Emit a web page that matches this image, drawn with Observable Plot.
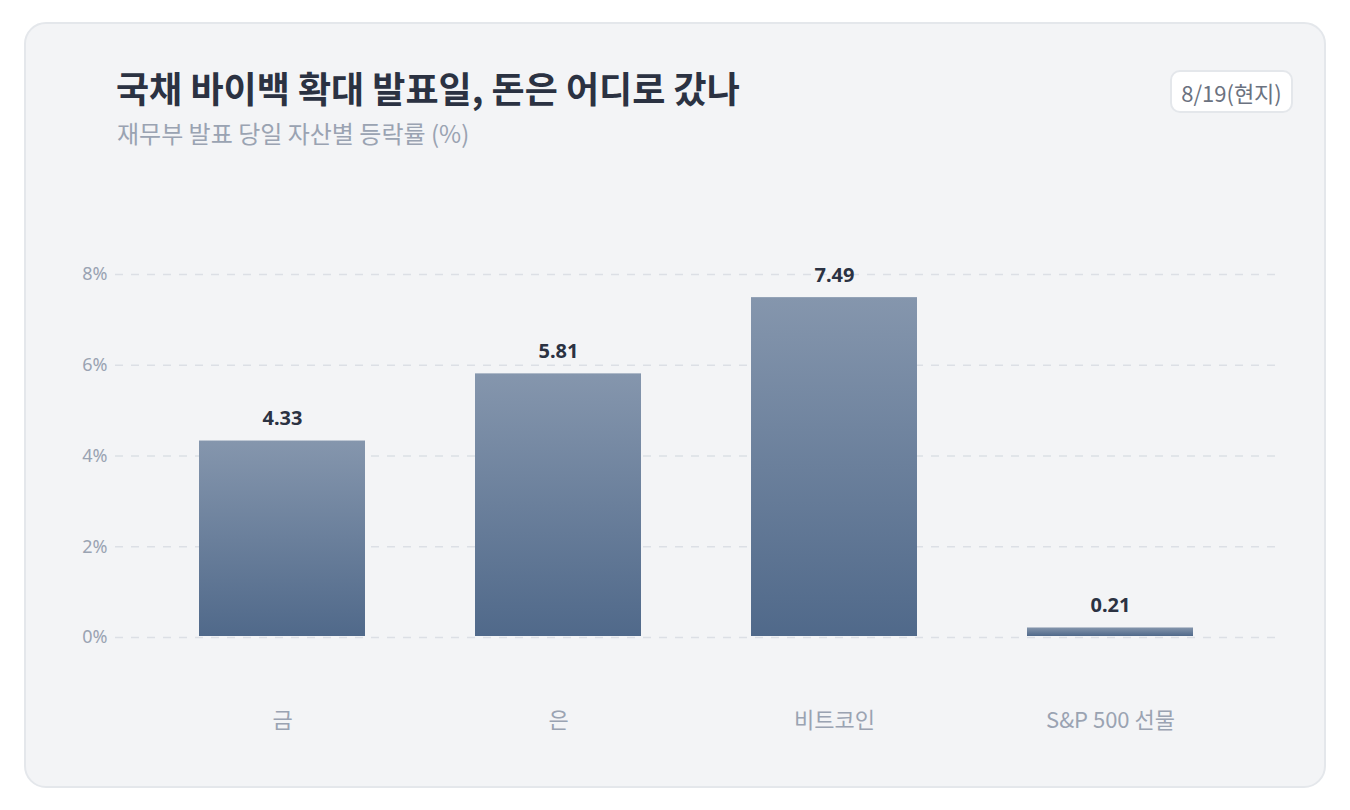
<!DOCTYPE html>
<html><head><meta charset="utf-8">
<script src="https://cdn.jsdelivr.net/npm/d3@7"></script>
<script src="https://cdn.jsdelivr.net/npm/@observablehq/plot@0.6"></script>
<style>
html,body{margin:0;padding:0;background:#ffffff;width:1350px;height:810px;overflow:hidden;font-family:"Noto Sans CJK KR","Noto Sans",sans-serif;}
#card{position:absolute;left:24px;top:22px;width:1298px;height:762px;background:#f3f4f6;border:2px solid #e4e7eb;border-radius:22px;}
#title{position:absolute;left:116px;top:69px;font-size:36px;line-height:36px;font-weight:700;color:#2b3242;white-space:nowrap;}
#subtitle{position:absolute;left:117px;top:121px;font-size:24px;line-height:24px;color:#9aa3b2;white-space:nowrap;}
#badge{position:absolute;left:1170px;top:70px;width:123px;height:43px;box-sizing:border-box;background:#ffffff;border:2px solid #e4e7eb;border-radius:10px;font-size:22px;line-height:22px;color:#6b7280;display:flex;align-items:center;justify-content:center;white-space:nowrap;}
#chart{position:absolute;left:0;top:180px;}
</style></head>
<body>
<div id="card"></div>
<div id="title"></div>
<div id="subtitle"></div>
<div id="badge"></div>
<div id="chart"></div>
<script>
const titleText = "국채 바이백 확대 발표일, 돈은 어디로 갔나";
const subtitleText = "재무부 발표 당일 자산별 등락률 (%)";
const badgeText = "8/19(현지)";

const assets = ["금", "은", "비트코인", "S&P 500 선물"];
const changes = [4.33, 5.81, 7.49, 0.21];
const yTicks = [0, 2, 4, 6, 8];

const data = assets.map((a, i) => ({asset: a, value: changes[i]}));

document.getElementById("title").textContent = titleText;
document.getElementById("subtitle").textContent = subtitleText;
document.getElementById("badge").textContent = badgeText;

const plot = Plot.plot({
  width: 1350,
  height: 580,
  marginLeft: 115,
  marginRight: 73,
  marginTop: 94,
  marginBottom: 123,
  style: {background: "transparent", fontFamily: "'Noto Sans','Noto Sans CJK KR',sans-serif", overflow: "visible"},
  x: {domain: assets, paddingInner: 0.4, paddingOuter: 0.3, label: null},
  y: {domain: [0, 8], label: null},
  marks: [
    () => {
      const svg = d3.create("svg:defs");
      const g = svg.append("linearGradient").attr("id", "barGrad").attr("x1", 0).attr("y1", 0).attr("x2", 0).attr("y2", 1);
      g.append("stop").attr("offset", "0%").attr("stop-color", "#8596ad");
      g.append("stop").attr("offset", "100%").attr("stop-color", "#50698a");
      return svg.node();
    },
    Plot.ruleY(yTicks, {y: d => d, stroke: "#dcdfe5", strokeWidth: 1.6, strokeDasharray: "8,8"}),
    Plot.axisY({ticks: yTicks, tickFormat: d => d + "%", tickSize: 0, tickPadding: 8, fontSize: 18, fill: "#9aa3b2"}),
    Plot.axisX({tickSize: 0, tickPadding: 75, fontSize: 22, fontFamily: "'Noto Sans CJK KR',sans-serif", fill: "#9aa3b2"}),
    Plot.barY(data, {x: "asset", y: "value", fill: "url(#barGrad)", insetBottom: 1}),
    Plot.text(data, {x: "asset", y: "value", text: d => d.value.toFixed(2), dy: -22, fontSize: 20, fontWeight: 700, fill: "#2b3242"})
  ]
});
document.getElementById("chart").appendChild(plot);
</script>
</body></html>
